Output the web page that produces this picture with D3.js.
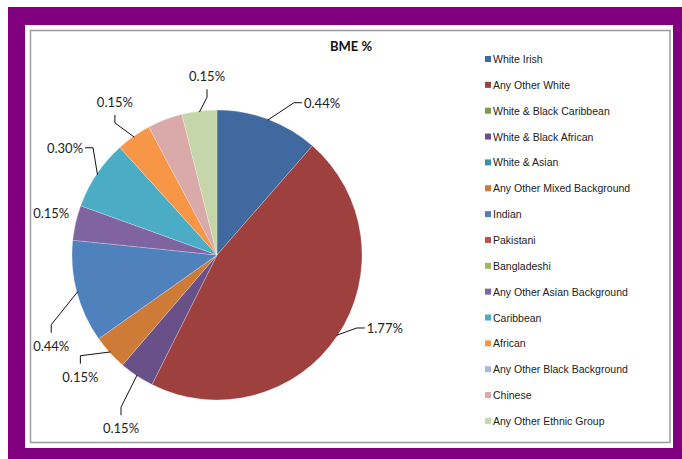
<!DOCTYPE html>
<html>
<head>
<meta charset="utf-8">
<script src="https://cdn.jsdelivr.net/npm/d3@7"></script>
<style>
  html, body { margin: 0; padding: 0; background: #fff; }
  svg { display: block; }
</style>
</head>
<body>
<svg id="chart" width="682" height="459"></svg>
<script>
// BME breakdown (% of workforce)
const categories = [
  "White Irish", "Any Other White", "White & Black Caribbean", "White & Black African",
  "White & Asian", "Any Other Mixed Background", "Indian", "Pakistani", "Bangladeshi",
  "Any Other Asian Background", "Caribbean", "African", "Any Other Black Background",
  "Chinese", "Any Other Ethnic Group"
];
const values = [0.44, 1.77, 0, 0.15, 0, 0.15, 0.44, 0, 0, 0.15, 0.30, 0.15, 0, 0.15, 0.15];
const colors = [
  "#4069A0", "#9E413E", "#7F9B48", "#6A5088", "#3A90A8", "#CD7B37", "#4F81BD",
  "#C0504D", "#9BBB59", "#8064A2", "#4BACC6", "#F79646", "#A9B9D8", "#D9AAA9", "#C5D6A9"
];
// Which slices carry a value label
const showLabel = [true, true, false, true, false, true, true, false, false, true, true, true, false, false, true];

// Label placement: polar angle (deg, clockwise from top), distance from centre, leader style
const labelLayout = {
  "White Irish":                { angle: 34.6, dist: 185, leader: "h" },
  "Any Other White":            { angle: 113.5, dist: 183, leader: "h" },
  "White & Black African":      { angle: 209, dist: 198, leader: "v" },
  "Any Other Mixed Background": { angle: 228.3, dist: 183, leader: "v" },
  "Indian":                     { angle: 241.3, dist: 189, leader: "v" },
  "Any Other Asian Background": { angle: 284.2, dist: 171, leader: "none" },
  "Caribbean":                  { angle: 305.2, dist: 186, leader: "h" },
  "African":                    { angle: 326.3, dist: 184, leader: "v" },
  "Any Other Ethnic Group":     { angle: 356.8, dist: 179, leader: "v" }
};

const svg = d3.select("#chart");

// Frame: purple surround, white card, grey chart border
svg.append("rect").attr("x", 8).attr("y", 7).attr("width", 674).attr("height", 452).attr("fill", "#800080");
svg.append("rect").attr("x", 25).attr("y", 25).attr("width", 648).attr("height", 423).attr("fill", "#ffffff");
svg.append("rect").attr("x", 30.5).attr("y", 30.5).attr("width", 639.5).attr("height", 412)
  .attr("fill", "none").attr("stroke", "#9a9a9a").attr("stroke-width", 1.5);

svg.append("text")
  .attr("x", 351).attr("y", 51)
  .attr("text-anchor", "middle")
  .attr("font-family", "Lato, 'Open Sans', sans-serif")
  .attr("font-weight", "bold")
  .attr("font-size", 13)
  .attr("fill", "#111")
  .text("BME %");

const cx = 217, cy = 255, r = 145;
const data = categories.map((c, i) => ({ name: c, value: values[i], color: colors[i], label: showLabel[i] }));

const pie = d3.pie().value(d => d.value).sort(null);
const arc = d3.arc().innerRadius(0).outerRadius(r);
const arcs = pie(data);

const g = svg.append("g").attr("transform", `translate(${cx},${cy})`);
g.selectAll("path.slice")
  .data(arcs.filter(a => a.data.value > 0))
  .join("path")
  .attr("class", "slice")
  .attr("d", arc)
  .attr("fill", d => d.data.color)
  .attr("stroke", "#ffffff")
  .attr("stroke-width", 0.4)
  .attr("stroke-opacity", 0.6);

const fmt = v => v.toFixed(2) + "%";
const polar = (deg, dist) => {
  const a = deg * Math.PI / 180;
  return [dist * Math.sin(a), -dist * Math.cos(a)];
};

const labelG = svg.append("g").attr("transform", `translate(${cx},${cy})`);
arcs.filter(a => a.data.label && a.data.value > 0).forEach(a => {
  const lay = labelLayout[a.data.name];
  const [tx, ty] = polar(lay.angle, lay.dist);
  const txt = labelG.append("text")
    .attr("x", tx).attr("y", ty)
    .attr("text-anchor", "middle")
    .attr("dominant-baseline", "central")
    .attr("font-family", "Lato, 'Open Sans', sans-serif")
    .attr("font-size", 13)
    .attr("fill", "#222")
    .text(fmt(a.data.value));
  if (lay.leader === "none") return;
  const w = txt.node().getComputedTextLength();
  const mid = (a.startAngle + a.endAngle) / 2 * 180 / Math.PI;
  const start = polar(mid, r - 1);
  let end, elbow;
  if (lay.leader === "h") {
    const s = tx > 0 ? 1 : -1;
    end = [tx - s * (w / 2 + 2), ty];
    elbow = [end[0] - s * 8, ty];
  } else {
    const s = ty > 0 ? 1 : -1;
    end = [tx, ty - s * 13];
    elbow = [tx, end[1] - s * 8];
  }
  labelG.append("path")
    .attr("d", d3.line()([start, elbow, end]))
    .attr("fill", "none")
    .attr("stroke", "#111")
    .attr("stroke-width", 1);
});

// Legend
const legend = svg.append("g").attr("transform", "translate(485,59)");
const rowH = 25.85;
const items = legend.selectAll("g").data(data).join("g")
  .attr("transform", (d, i) => `translate(0,${i * rowH})`);
items.append("rect")
  .attr("x", 0).attr("y", -3).attr("width", 6).attr("height", 6)
  .attr("fill", d => d.color);
items.append("text")
  .attr("x", 8).attr("y", 0)
  .attr("dominant-baseline", "central")
  .attr("font-family", "'Liberation Sans', Arial, sans-serif")
  .attr("font-size", 10.5)
  .attr("fill", "#222")
  .text(d => d.name);
</script>
</body>
</html>
